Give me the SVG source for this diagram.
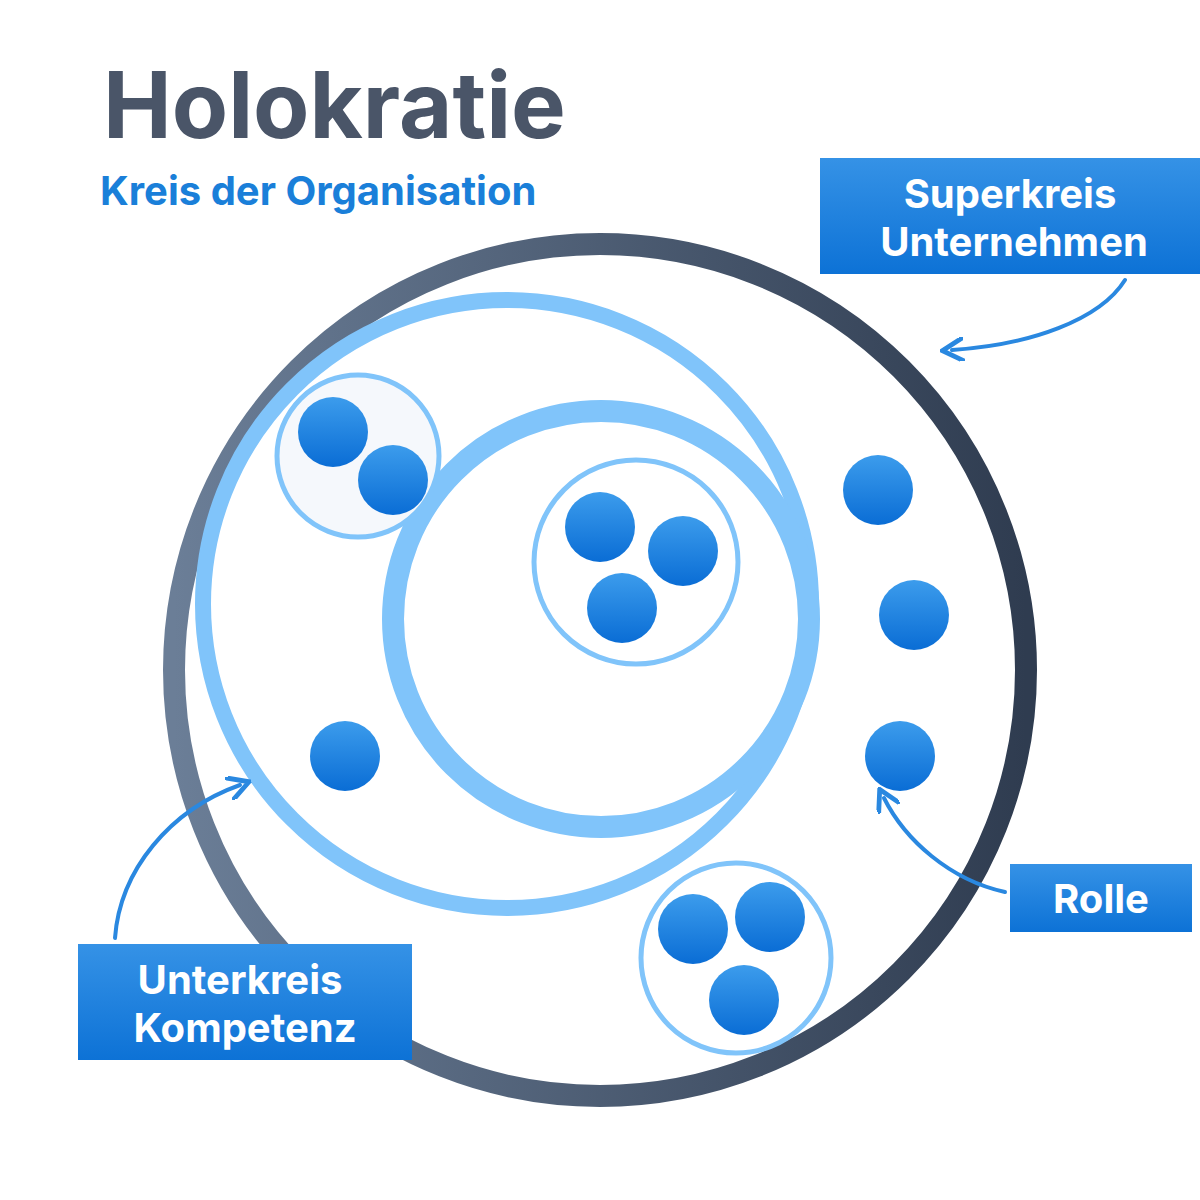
<svg xmlns="http://www.w3.org/2000/svg" width="1200" height="1200" viewBox="0 0 1200 1200">
<defs>
<linearGradient id="og" x1="0" y1="0" x2="1" y2="0"><stop offset="0" stop-color="#6b7e97"/><stop offset="1" stop-color="#2f3c50"/></linearGradient>
<linearGradient id="dg" x1="0" y1="0" x2="0" y2="1"><stop offset="0" stop-color="#3c9cec"/><stop offset="1" stop-color="#0a6dd5"/></linearGradient>
<linearGradient id="bg" x1="0" y1="0" x2="0" y2="1"><stop offset="0" stop-color="#3592e6"/><stop offset="1" stop-color="#0d72d6"/></linearGradient>
<marker id="ah" viewBox="0 0 10 10" refX="5" refY="5" markerWidth="6" markerHeight="6" orient="auto-start-reverse"><path d="M0,0 L9,5 L0,10" fill="none" stroke="#2a88e0" stroke-width="2"/></marker>
<style>
.dot{fill:url(#dg)}
.lb{fill:none;stroke:#80c4fa}
.lbl{font-family:Inter,"Liberation Sans",sans-serif;font-weight:700;fill:#fff;font-size:40px;text-anchor:middle}
.con{fill:none;stroke:#2a88e0;stroke-width:4;stroke-linecap:round}
</style>
</defs>
<rect width="1200" height="1200" fill="#fff"/>
<text x="103" y="138" font-family="Inter,'Liberation Sans',sans-serif" font-weight="700" font-size="92" fill="#4a5568">Holokratie</text>
<text x="100" y="205" font-family="Inter,'Liberation Sans',sans-serif" font-weight="700" font-size="40" fill="#1a7fd9">Kreis der Organisation</text>
<g id="superkreis"><circle cx="600" cy="670" r="426" fill="none" stroke="url(#og)" stroke-width="22"/></g>
<g id="kreis"><circle cx="507" cy="604" r="304" class="lb" stroke-width="16"/></g>
<g id="inner"><circle cx="601" cy="619" r="208" class="lb" stroke-width="22"/></g>
<g id="c3"><circle cx="636" cy="562" r="102" fill="#fff" class="lb" stroke-width="5"/>
<circle cx="600" cy="527" r="35" class="dot"/><circle cx="683" cy="551" r="35" class="dot"/><circle cx="622" cy="608" r="35" class="dot"/></g>
<g id="c2"><circle cx="358" cy="456" r="81" fill="#f5f8fc" stroke="#80c4fa" stroke-width="5"/>
<circle cx="333" cy="432" r="35" class="dot"/><circle cx="393" cy="480" r="35" class="dot"/></g>
<g id="c4"><circle cx="736" cy="958" r="95" fill="#fff" class="lb" stroke-width="5"/>
<circle cx="693" cy="929" r="35" class="dot"/><circle cx="770" cy="917" r="35" class="dot"/><circle cx="744" cy="1000" r="35" class="dot"/></g>
<g id="rollen"><circle cx="878" cy="490" r="35" class="dot"/><circle cx="914" cy="615" r="35" class="dot"/><circle cx="900" cy="756" r="35" class="dot"/><circle cx="345" cy="756" r="35" class="dot"/></g>
<g id="connectors">
<path class="con" d="M1125,280 C1100,320 1030,345 952,350" marker-end="url(#ah)"/>
<path class="con" d="M1005,892 C950,880 905,840 884,798" marker-end="url(#ah)"/>
<path class="con" d="M115,938 C120,870 170,810 240,785" marker-end="url(#ah)"/>
</g>
<g id="l-super"><rect x="820" y="158" width="380" height="116" fill="url(#bg)"/><text class="lbl" x="1010" y="208">Superkreis</text><text class="lbl" x="1014" y="256">Unternehmen</text></g>
<g id="l-rolle"><rect x="1010" y="864" width="182" height="68" fill="url(#bg)"/><text class="lbl" x="1101" y="913">Rolle</text></g>
<g id="l-unter"><rect x="78" y="944" width="334" height="116" fill="url(#bg)"/><text class="lbl" x="240" y="994">Unterkreis</text><text class="lbl" x="245" y="1042">Kompetenz</text></g>
</svg>
